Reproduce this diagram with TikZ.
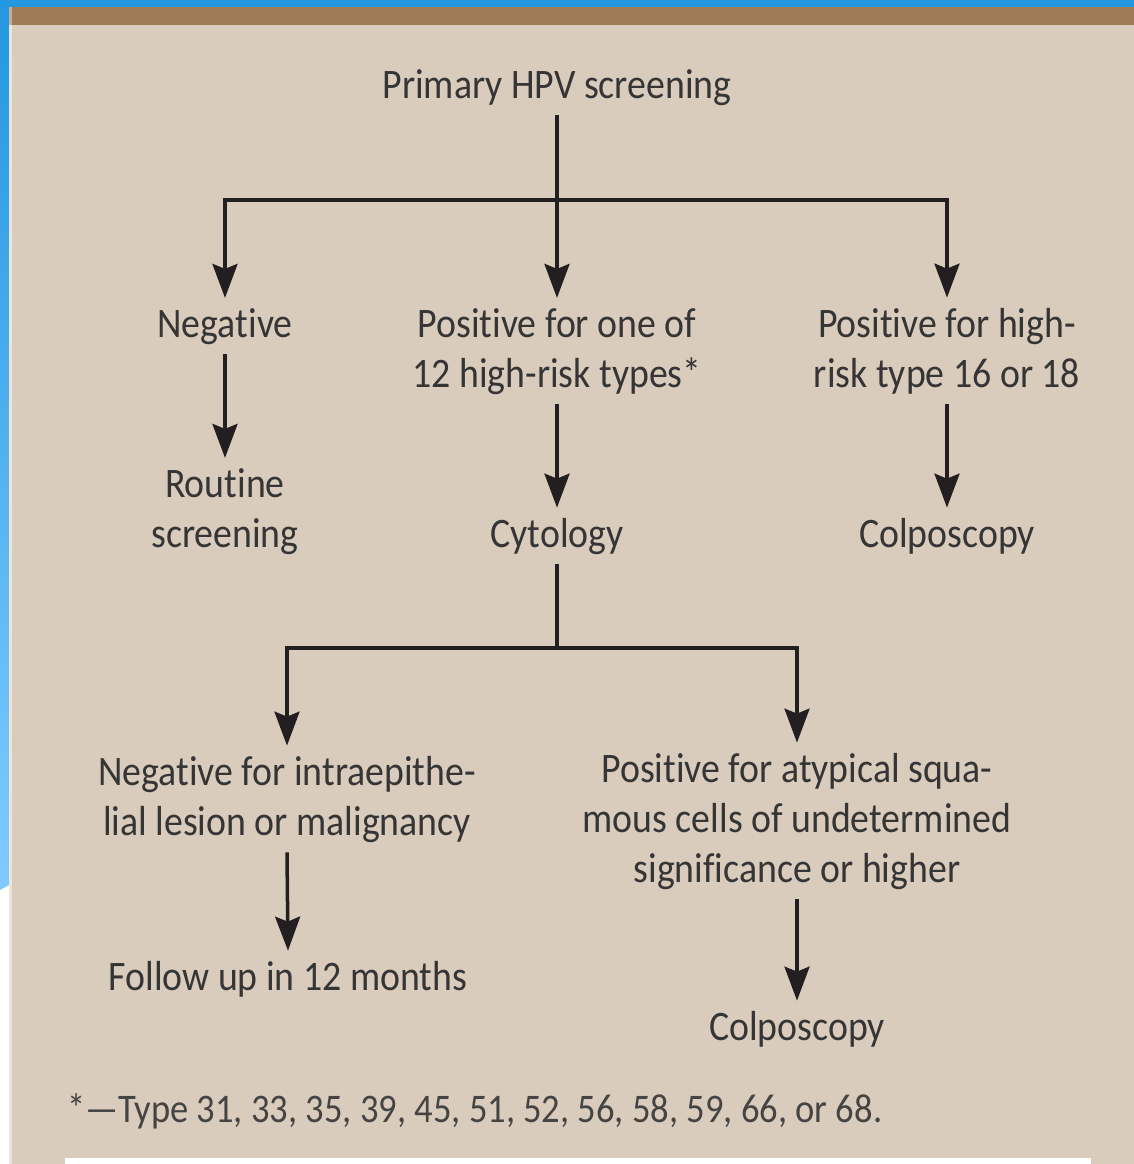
\documentclass[tikz,border=0pt]{standalone}
\usepackage{fontspec}
\setmainfont{Carlito}[FakeStretch=0.9, Ligatures=NoCommon]
\usetikzlibrary{arrows.meta}
\definecolor{bgblue}{HTML}{2397E0}
\definecolor{bgblue2}{HTML}{7FCBFF}
\definecolor{brownband}{HTML}{9F7B56}
\definecolor{brownlight}{HTML}{C4AE98}
\definecolor{beige}{HTML}{D9CCBC}
\definecolor{paleedge}{HTML}{EDE5DC}
\definecolor{ink}{HTML}{231F20}
\definecolor{txt}{HTML}{353535}
\tikzset{
  lbl/.style={font=\fontsize{42}{50}\selectfont, text=txt, align=center, inner xsep=0pt, inner ysep=10pt, anchor=base},
  foot/.style={font=\fontsize{40.6}{48}\selectfont, text=txt!90!beige, inner sep=0pt, anchor=base west},
  conn/.style={draw=ink, line width=3.5pt, line join=miter},
  arr/.style={conn, -{Stealth[length=34pt, width=25pt, inset=5pt]}}
}
\begin{document}
\begin{tikzpicture}[x=1pt, y=-1pt]
% background
\fill[white] (0,0) rectangle (1134,1164);
\useasboundingbox (0,0) rectangle (1134,1164);
\shade[top color=bgblue, bottom color=bgblue2] (0,0) -- (9,0) -- (9,885) -- (0,890) -- cycle;
\fill[bgblue] (0,0) rectangle (1134,7);
\fill[paleedge] (9,7) rectangle (12,1164);
\fill[brownlight] (9,7) rectangle (12,25);
\fill[brownband] (12,7) rectangle (1134,25);
\fill[beige] (12,25) rectangle (1134,1164);
\fill[white] (65,1158) rectangle (1091,1164);

% nodes (multi-line nodes are placed by the baseline of their last line)
\node[lbl] (prim) at (557,98) {Primary HPV screening};
\node[lbl] (neg) at (225,337) {Negative};
\node[lbl] (pos12) at (557,387) {Positive for one of\\12 high-risk types*};
\node[lbl] (pos16) at (947,387) {Positive for high-\\risk type 16 or 18};
\node[lbl] (rout) at (225,547) {Routine\\screening};
\node[lbl] (cyto) at (557,547) {Cytology};
\node[lbl] (colp1) at (947,547) {Colposcopy};
\node[lbl] (nilm) at (287,835) {Negative for intraepithe-\\lial lesion or malignancy};
\node[lbl] (ascus) at (797,882) {Positive for atypical squa-\\mous cells of undetermined\\significance or higher};
\node[lbl] (fup) at (288,990) {Follow up in 12 months};
\node[lbl] (colp2) at (797,1040) {Colposcopy};
\node[foot] (note) at (67,1122) {*—Type 31, 33, 35, 39, 45, 51, 52, 56, 58, 59, 66, or 68.};

% connectors
\coordinate (j1) at (557,200);
\coordinate (j2) at (557,648);
\draw[arr] (prim.south) -- (pos12.north);
\draw[arr] (j1) -| (neg.north);
\draw[arr] (j1) -| (pos16.north);
\draw[arr] (neg.south) -- (rout.north);
\draw[arr] (pos12.south) -- (cyto.north);
\draw[arr] (pos16.south) -- (colp1.north);
\draw[conn] (cyto.south) -- (j2);
\draw[arr] (j2) -| (nilm.north);
\draw[arr] (j2) -| (ascus.north);
\draw[arr] (nilm.south) -- (fup.north);
\draw[arr] (ascus.south) -- (colp2.north);
\end{tikzpicture}
\end{document}
